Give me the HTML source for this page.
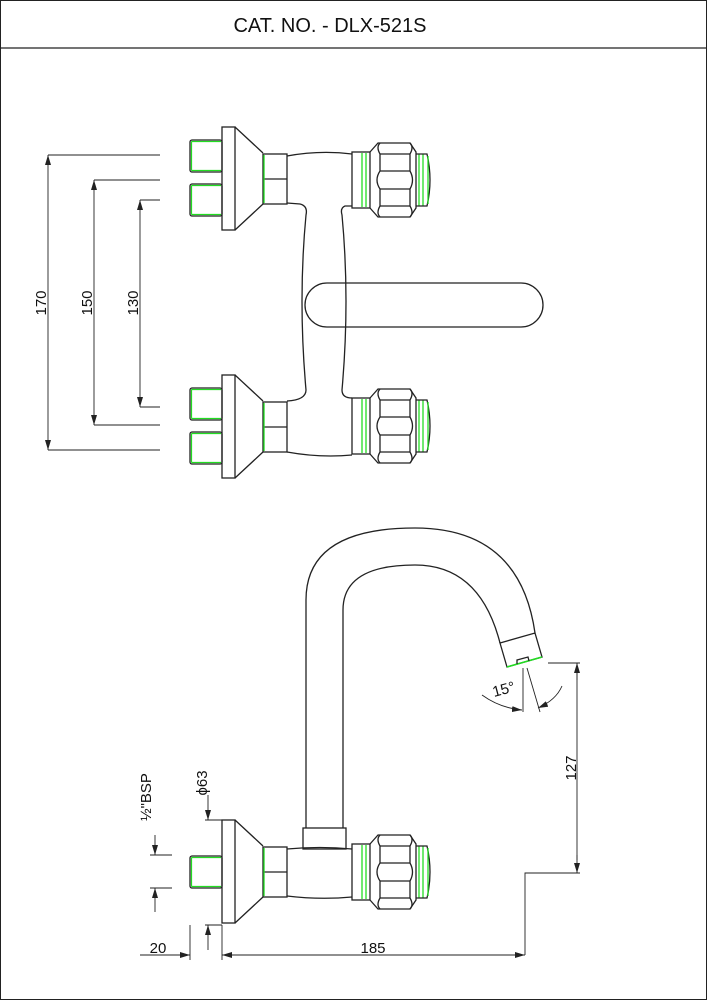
<!DOCTYPE html>
<html><head><meta charset="utf-8"><style>
html,body{margin:0;padding:0;background:#fff}
svg{display:block}
text{font-family:"Liberation Sans","DejaVu Sans",sans-serif;fill:#111}
</style></head><body>
<svg width="707" height="1000" viewBox="0 0 707 1000" xmlns="http://www.w3.org/2000/svg">
<defs>
<marker id="a" markerWidth="10" markerHeight="6" refX="10" refY="3" orient="auto" markerUnits="userSpaceOnUse"><path d="M0,0 L10,3 L0,6 Z" fill="#222"/></marker>
<g id="knob" fill="none" stroke="#222" stroke-width="1.3">
<rect x="352" y="-28" width="18" height="56"/>
<line x1="362" y1="-27" x2="362" y2="27" stroke="#2d2"/><line x1="366" y1="-27" x2="366" y2="27" stroke="#2d2"/>
<path d="M370,-28 L378,-37 L410,-37 L416,-28 L416,28 L410,37 L378,37 L370,28"/>
<path d="M380,-37 Q376,-33 380,-26 L380,-9 Q374,0 380,9 L380,26 Q376,33 380,37 M410,-37 Q414,-33 410,-26 L410,-9 Q415,0 410,9 L410,26 Q414,33 410,37"/>
<path d="M380,-26 H410 M380,-9 H410 M380,9 H410 M380,26 H410"/>
<line x1="419" y1="-26" x2="419" y2="26" stroke="#2d2"/><line x1="423" y1="-26" x2="423" y2="26" stroke="#2d2"/>
<path d="M416,-26 H427 Q433,0 427,26 H416"/>
<line x1="428" y1="-24" x2="428" y2="24" stroke="#2d2"/>
</g>
<g id="flange" fill="none" stroke="#222" stroke-width="1.3">
<rect x="222" y="-52" width="13" height="103"/>
<path d="M235,-52 L263,-26 M235,51 L263,25"/>
<rect x="263" y="-25" width="24" height="50"/>
<line x1="263" y1="0" x2="287" y2="0"/>
<line x1="264" y1="-24" x2="264" y2="24" stroke="#2d2"/>
</g>
<g id="stub" fill="none">
<rect x="190" y="0" width="32" height="32" rx="2" stroke="#222" stroke-width="1.3"/>
<path d="M221,1.5 H192 Q191.5,1.5 191.5,3 V29 Q191.5,30.5 192,30.5 H221" stroke="#2d2" stroke-width="1.2"/>
</g>
</defs>
<rect x="0.5" y="0.5" width="706" height="999" fill="none" stroke="#222"/>
<line x1="0" y1="48" x2="707" y2="48" stroke="#222" stroke-width="1.3"/>
<text x="330" y="32" font-size="20" text-anchor="middle">CAT. NO. - DLX-521S</text>

<g transform="translate(0,179)"><use href="#flange"/><use href="#knob" transform="translate(0,1)"/></g>
<g transform="translate(0,427)"><use href="#flange"/><use href="#knob" transform="translate(0,-1)"/></g>
<use href="#stub" transform="translate(0,140)"/>
<use href="#stub" transform="translate(0,184)"/>
<use href="#stub" transform="translate(0,388)"/>
<use href="#stub" transform="translate(0,432)"/>
<g fill="none" stroke="#222" stroke-width="1.3">
<path d="M287,156 Q320,150 352,154"/>
<path d="M287,203 L300,204 Q308,206 306,215 Q298,300 306,390 Q306,400 287,401"/>
<path d="M352,206 L345,206 Q340,208 342,215 Q350,300 342,390 Q342,398 352,398"/>
<path d="M287,452 Q320,458 352,455"/>
<rect x="305" y="283" width="238" height="44" rx="22"/>

<g stroke-width="0.9">
<line x1="48" y1="155" x2="160" y2="155"/><line x1="48" y1="450" x2="160" y2="450"/>
<line x1="94" y1="180" x2="160" y2="180"/><line x1="94" y1="425" x2="160" y2="425"/>
<line x1="140" y1="200" x2="160" y2="200"/><line x1="140" y1="407" x2="160" y2="407"/>
<line x1="48" y1="165" x2="48" y2="155" marker-end="url(#a)"/><line x1="48" y1="440" x2="48" y2="450" marker-end="url(#a)"/><line x1="48" y1="160" x2="48" y2="445"/>
<line x1="94" y1="190" x2="94" y2="180" marker-end="url(#a)"/><line x1="94" y1="415" x2="94" y2="425" marker-end="url(#a)"/><line x1="94" y1="185" x2="94" y2="420"/>
<line x1="140" y1="210" x2="140" y2="200" marker-end="url(#a)"/><line x1="140" y1="397" x2="140" y2="407" marker-end="url(#a)"/><line x1="140" y1="205" x2="140" y2="402"/>
</g>
</g>
<text transform="translate(46,303) rotate(-90)" font-size="15" text-anchor="middle">170</text>
<text transform="translate(92,303) rotate(-90)" font-size="15" text-anchor="middle">150</text>
<text transform="translate(138,303) rotate(-90)" font-size="15" text-anchor="middle">130</text>

<g transform="translate(0,872)"><use href="#flange"/><use href="#knob"/></g>
<use href="#stub" transform="translate(0,856)"/>
<g fill="none" stroke="#222" stroke-width="1.3">
<path d="M287,849 Q320,846 352,849 M287,896 Q320,900 352,897"/>
<rect x="303" y="828" width="43" height="21"/>
<path d="M306,828 L306,600 Q306,528 415,528 Q520,528 535,633"/>
<path d="M343,828 L343,610 Q343,565 415,565 Q480,565 500,643"/>
<path d="M500,643 L535,633 L542,657 L507,667 Z"/>
<path d="M507,667 L542,657" stroke="#2d2" stroke-width="1.6"/>
<path d="M517,664 L517,660 L528,657 L529,661"/>
<g stroke-width="0.9">
<line x1="523" y1="668" x2="523" y2="712"/><line x1="527" y1="668" x2="540" y2="712"/>
<path d="M482,695 Q500,708 522,710" marker-end="url(#a)"/>
<path d="M562,686 Q556,700 538,708" marker-end="url(#a)"/>
<line x1="548" y1="663" x2="580" y2="663"/>
<line x1="577" y1="680" x2="577" y2="663" marker-end="url(#a)"/><line x1="577" y1="855" x2="577" y2="873" marker-end="url(#a)"/><line x1="577" y1="670" x2="577" y2="860"/>
<path d="M525,955 L525,873 L580,873"/>
<line x1="222" y1="925" x2="222" y2="960"/><line x1="190" y1="925" x2="190" y2="960"/>
<line x1="240" y1="955" x2="222" y2="955" marker-end="url(#a)"/><line x1="505" y1="955" x2="525" y2="955" marker-end="url(#a)"/><line x1="235" y1="955" x2="510" y2="955"/>
<line x1="170" y1="955" x2="190" y2="955" marker-end="url(#a)"/><line x1="140" y1="955" x2="175" y2="955"/>
<line x1="208" y1="795" x2="208" y2="820" marker-end="url(#a)"/><line x1="208" y1="950" x2="208" y2="925" marker-end="url(#a)"/>
<line x1="205" y1="820" x2="222" y2="820"/><line x1="205" y1="925" x2="222" y2="925"/>
<line x1="155" y1="835" x2="155" y2="855" marker-end="url(#a)"/><line x1="155" y1="912" x2="155" y2="888" marker-end="url(#a)"/>
<line x1="150" y1="855" x2="172" y2="855"/><line x1="150" y1="888" x2="172" y2="888"/>
</g>
</g>
<text x="494" y="697" font-size="15" transform="rotate(-15 494 697)">15°</text>
<text transform="translate(576,768) rotate(-90)" font-size="15" text-anchor="middle">127</text>
<text x="373" y="953" font-size="15" text-anchor="middle">185</text>
<text x="158" y="953" font-size="15" text-anchor="middle">20</text>
<text transform="translate(207,783) rotate(-90)" font-size="15" text-anchor="middle">ϕ63</text>
<text transform="translate(151,797) rotate(-90)" font-size="15" text-anchor="middle">½"BSP</text>
</svg>
</body></html>
